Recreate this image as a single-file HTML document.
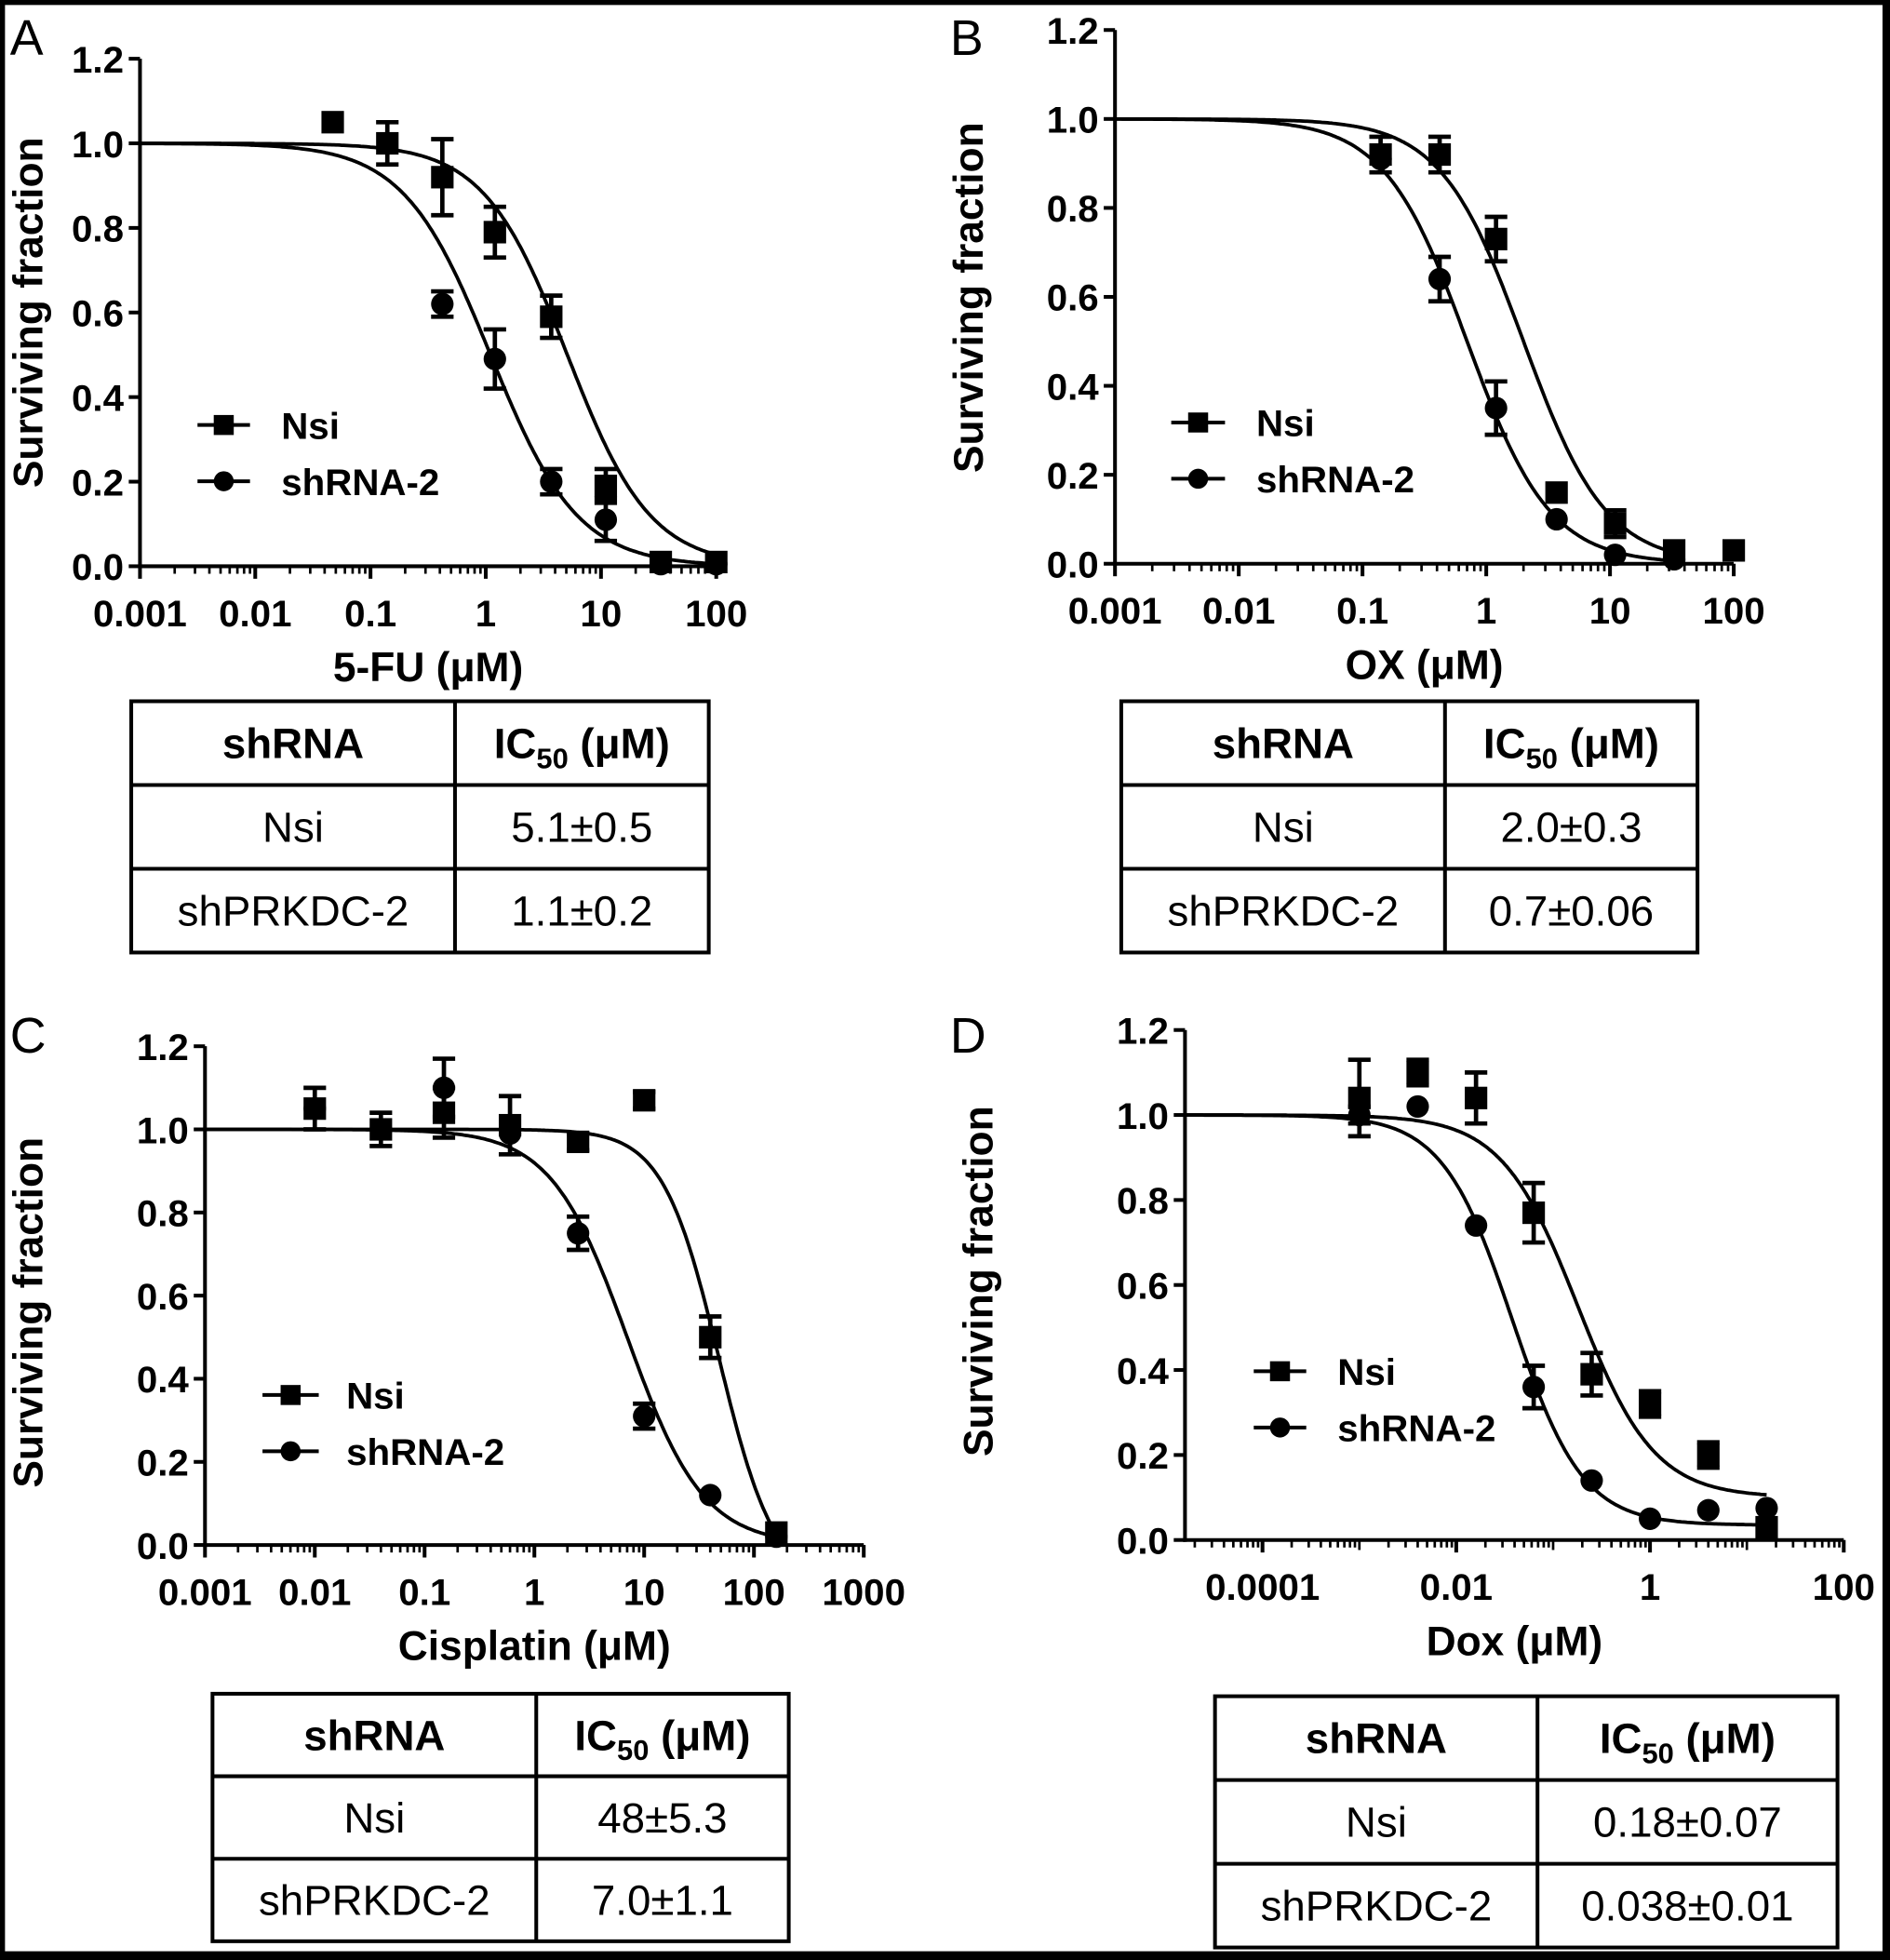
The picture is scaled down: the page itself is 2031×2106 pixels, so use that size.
<!DOCTYPE html>
<html><head><meta charset="utf-8">
<style>
html,body{margin:0;padding:0;background:#000;}
svg{display:block;}
text{font-family:"Liberation Sans",Arial,sans-serif;fill:#000;}
.b{font-weight:bold;}
</style></head>
<body>
<svg id="fig" xmlns="http://www.w3.org/2000/svg" width="2031" height="2106" viewBox="0 0 1512 1568" preserveAspectRatio="none">
<rect x="0" y="0" width="1512" height="1568" fill="#000"/>
<rect x="4" y="4" width="1502" height="1557" fill="#fff"/>
<g id="plots"></g>
</svg>
<script>
// Panel A: 5-FU
const aDoses = [0.047, 0.14, 0.42, 1.2, 3.7, 11, 33, 100];
const aNsiY = [1.05, 1.0, 0.92, 0.79, 0.59, 0.19, 0.01, 0.01];
const aNsiErr = [0, 0.05, 0.09, 0.06, 0.05, 0.04, 0, 0];
const aShDoses = [0.42, 1.2, 3.7, 11, 33, 100];
const aShY = [0.62, 0.49, 0.2, 0.11, 0.005, 0.005];
const aShErr = [0.03, 0.07, 0.03, 0.05, 0, 0];
const aFit = [5.1, 1.2, 1.1, 1.15];
// Panel B: OX
const bDoses = [0.14, 0.42, 1.2, 3.7, 11, 33, 100];
const bNsiY = [0.92, 0.92, 0.73, 0.16, 0.09, 0.03, 0.03];
const bNsiErr = [0.04, 0.04, 0.05, 0, 0.03, 0, 0];
const bShDoses = [0.14, 0.42, 1.2, 3.7, 11, 33];
const bShY = [0.91, 0.64, 0.35, 0.10, 0.02, 0.01];
const bShErr = [0, 0.05, 0.06, 0, 0, 0];
const bFit = [2.0, 1.3, 0.7, 1.3];
// Panel C: Cisplatin
const cDoses = [0.01, 0.04, 0.15, 0.6, 2.5, 10, 40, 160];
const cNsiY = [1.05, 1.0, 1.04, 1.01, 0.97, 1.07, 0.5, 0.03];
const cNsiErr = [0.05, 0.04, 0.06, 0.07, 0.02, 0.02, 0.05, 0];
const cShDoses = [0.01, 0.04, 0.15, 0.6, 2.5, 10, 40, 160];
const cShY = [1.05, 1.0, 1.1, 0.99, 0.75, 0.31, 0.12, 0.02];
const cShErr = [0, 0, 0.07, 0, 0.04, 0.03, 0, 0];
const cFit = [48, 1.7, 7.0, 1.25];
const cBottom = [-0.1, 0];
// Panel D: Dox
const dDoses = [0.001, 0.004, 0.016, 0.063, 0.25, 1, 4, 16];
const dNsiY = [1.04, 1.1, 1.04, 0.77, 0.39, 0.32, 0.2, 0.03];
const dNsiErr = [0.09, 0.03, 0.06, 0.07, 0.05, 0.03, 0.03, 0];
const dShDoses = [0.001, 0.004, 0.016, 0.063, 0.25, 1, 4, 16];
const dShY = [1.0, 1.02, 0.74, 0.36, 0.14, 0.05, 0.07, 0.075];
const dShErr = [0.02, 0, 0, 0.05, 0, 0, 0, 0];
const dFit = [0.18, 1.1, 0.038, 1.2];
const dBottom = [0.1, 0.035];

const yTicks = [0, 0.2, 0.4, 0.6, 0.8, 1.0, 1.2];
const yTickLabels = ["0.0","0.2","0.4","0.6","0.8","1.0","1.2"];
const aXTicks = [-3,-2,-1,0,1,2];
const aXLabels = ["0.001","0.01","0.1","1","10","100"];
const cXTicks = [-3,-2,-1,0,1,2,3];
const cXLabels = ["0.001","0.01","0.1","1","10","100","1000"];
const dXTicks = [-4,-2,0,2];
const dXLabels = ["0.0001","0.01","1","100"];
const tableNsi = ["5.1±0.5","2.0±0.3","48±5.3","0.18±0.07"];
const tableSh = ["1.1±0.2","0.7±0.06","7.0±1.1","0.038±0.01"];

const NS = "http://www.w3.org/2000/svg";
const root = document.getElementById('plots');
function mk(tag, attrs, parent){
  const e = document.createElementNS(NS, tag);
  for (const k in attrs) e.setAttribute(k, attrs[k]);
  (parent||root).appendChild(e);
  return e;
}
function txt(s, attrs, parent){ const t = mk('text', attrs, parent); t.textContent = s; return t; }

const panels = [
 {id:'a', letter:'A', lx:8, ly:44, ax:112, xmin:-3, xmax:2, xr:573, y0:453, y12:47, ticks:aXTicks, labels:aXLabels, xtitle:'5-FU (μM)', ytx:34, ytc:250,
  doses:aDoses, nsi:aNsiY, nsiE:aNsiErr, shd:aShDoses, sh:aShY, shE:aShErr, fit:aFit, bot:[0,0], cmin:-3, cmax:2,
  leg:[158,200,340,225], tab:[105,364,567,561,67]},
 {id:'b', letter:'B', lx:760, ly:44, ax:892, xmin:-3, xmax:2, xr:1387, y0:451, y12:24, ticks:aXTicks, labels:aXLabels, xtitle:'OX  (μM)', ytx:786, ytc:238,
  doses:bDoses, nsi:bNsiY, nsiE:bNsiErr, shd:bShDoses, sh:bShY, shE:bShErr, fit:bFit, bot:[0,0], cmin:-3, cmax:Math.log10(33),
  leg:[937,980,338,1005], tab:[897,1156,1358,561,67]},
 {id:'c', letter:'C', lx:8, ly:842, ax:164, xmin:-3, xmax:3, xr:691, y0:1236, y12:837, ticks:cXTicks, labels:cXLabels, xtitle:'Cisplatin (μM)', ytx:34, ytc:1050,
  doses:cDoses, nsi:cNsiY, nsiE:cNsiErr, shd:cShDoses, sh:cShY, shE:cShErr, fit:cFit, bot:cBottom, cmin:-3, cmax:Math.log10(160),
  leg:[210,255,1116,277], tab:[170,429,631,1355,66]},
 {id:'d', letter:'D', lx:760, ly:842, ax:948, xmin:-4.8, xmax:2, xr:1475, y0:1232, y12:824, ticks:dXTicks, labels:dXLabels, xtitle:'Dox  (μM)', ytx:794, ytc:1025,
  doses:dDoses, nsi:dNsiY, nsiE:dNsiErr, shd:dShDoses, sh:dShY, shE:dShErr, fit:dFit, bot:dBottom, cmin:-4.8, cmax:Math.log10(16),
  leg:[1003,1045,1097,1070], tab:[972,1230,1470,1357,67]}
];

panels.forEach((p, pi) => {
  const g = mk('g', {});
  
  
  const x0 = p.ax, xr = p.xr;
  const X = v => x0 + (Math.log10(v) - p.xmin) / (p.xmax - p.xmin) * (xr - x0);
  const XL = l => x0 + (l - p.xmin) / (p.xmax - p.xmin) * (xr - x0);
  const Y = v => p.y0 - v / 1.2 * (p.y0 - p.y12);
  const lt = txt(p.letter, {x:p.lx, y:p.ly, 'font-size':40}, g);
  
  
  const ya = mk('line', {x1:x0, y1:p.y12, x2:x0, y2:p.y0+1.5, stroke:'#000','stroke-width':3}, g);
  
  
  const xa = mk('line', {x1:x0-1.5, y1:p.y0, x2:xr, y2:p.y0, stroke:'#000','stroke-width':3}, g);
  
  
  yTicks.forEach((v, i) => {
    mk('line', {x1:x0-9, y1:Y(v), x2:x0, y2:Y(v), stroke:'#000','stroke-width':3}, g);
    const t = txt(yTickLabels[i], {x:x0-13, y:Y(v)+11, 'font-size':30, 'text-anchor':'end', class:'b'}, g);
    
    
  });
  for (let d = Math.floor(p.xmin); d <= p.xmax; d++) {
    for (let m = 1; m <= 9; m++) {
      const l = d + Math.log10(m);
      if (l < p.xmin - 1e-9 || l > p.xmax + 1e-9) continue;
      const major = m === 1 && p.ticks.indexOf(d) >= 0;
      const len = major ? 10 : (m === 1 ? 8 : 6);
      mk('line', {x1:XL(l), y1:p.y0, x2:XL(l), y2:p.y0+len, stroke:'#000','stroke-width':major?3:2}, g);
    }
  }
  p.ticks.forEach((l, i) => {
    const t = txt(p.labels[i], {x:XL(l), y:p.y0+48, 'font-size':30, 'text-anchor':'middle', class:'b'}, g);
    
    
  });
  const xt = txt(p.xtitle, {x:(x0+xr)/2, y:p.y0+92, 'font-size':33, 'text-anchor':'middle', class:'b'}, g);
  
  
  const yt = txt('Surviving fraction', {x:0, y:0, 'font-size':33, 'text-anchor':'middle', class:'b', transform:`translate(${p.ytx},${p.ytc}) rotate(-90)`}, g);
  
  
  const curve = (ic, h, bot, nm) => {
    let d = '';
    for (let i = 0; i <= 300; i++) {
      const l = p.cmin + (p.cmax - p.cmin) * i / 300;
      const v = Math.max(0, bot + (1 - bot) / (1 + Math.pow(Math.pow(10, l) / ic, h)));
      d += (i ? 'L' : 'M') + XL(l).toFixed(1) + ',' + Y(v).toFixed(1);
    }
    const c = mk('path', {d:d, fill:'none', stroke:'#000', 'stroke-width':2.8}, g);
    
    
  };
  curve(p.fit[0], p.fit[1], p.bot[0], 'nsi-fit-curve');
  curve(p.fit[2], p.fit[3], p.bot[1], 'shrna-fit-curve');
  const errbar = (x, y, e) => {
    if (!e) return;
    mk('line', {x1:x, y1:Y(y-e), x2:x, y2:Y(y+e), stroke:'#000','stroke-width':3.5}, g);
    mk('line', {x1:x-9, y1:Y(y-e), x2:x+9, y2:Y(y-e), stroke:'#000','stroke-width':3.5}, g);
    mk('line', {x1:x-9, y1:Y(y+e), x2:x+9, y2:Y(y+e), stroke:'#000','stroke-width':3.5}, g);
  };
  p.shd.forEach((dv, i) => {
    errbar(X(dv), p.sh[i], p.shE[i]);
    const c = mk('circle', {cx:X(dv), cy:Y(p.sh[i]), r:9, fill:'#000'}, g);
    
    
  });
  p.doses.forEach((dv, i) => {
    errbar(X(dv), p.nsi[i], p.nsiE[i]);
    const s = mk('rect', {x:X(dv)-9, y:Y(p.nsi[i])-9, width:18, height:18, fill:'#000'}, g);
    
    
  });
  const [l1, l2, ly, tx] = p.leg;
  const lg = mk('g', {}, g);
  
  
  mk('line', {x1:l1, y1:ly, x2:l2, y2:ly, stroke:'#000','stroke-width':3}, lg);
  mk('rect', {x:(l1+l2)/2-8, y:ly-8, width:16, height:16, fill:'#000'}, lg);
  txt('Nsi', {x:tx, y:ly+11, 'font-size':30, class:'b'}, lg);
  mk('line', {x1:l1, y1:ly+45, x2:l2, y2:ly+45, stroke:'#000','stroke-width':3}, lg);
  mk('circle', {cx:(l1+l2)/2, cy:ly+45, r:8, fill:'#000'}, lg);
  txt('shRNA-2', {x:tx, y:ly+56, 'font-size':30, class:'b'}, lg);
  const [tx0, tc, tx1, ty0, rh] = p.tab;
  const tg = mk('g', {}, g);
  
  
  mk('rect', {x:tx0, y:ty0, width:tx1-tx0, height:rh*3, fill:'none', stroke:'#000','stroke-width':3}, tg);
  mk('line', {x1:tc, y1:ty0, x2:tc, y2:ty0+rh*3, stroke:'#000','stroke-width':3}, tg);
  mk('line', {x1:tx0, y1:ty0+rh, x2:tx1, y2:ty0+rh, stroke:'#000','stroke-width':3}, tg);
  mk('line', {x1:tx0, y1:ty0+rh*2, x2:tx1, y2:ty0+rh*2, stroke:'#000','stroke-width':3}, tg);
  const c1 = (tx0+tc)/2, c2 = (tc+tx1)/2;
  txt('shRNA', {x:c1, y:ty0+rh/2+12, 'font-size':34, 'text-anchor':'middle', class:'b'}, tg);
  const h = txt('', {x:c2, y:ty0+rh/2+12, 'font-size':34, 'text-anchor':'middle', class:'b'}, tg);
  h.innerHTML = 'IC<tspan font-size="23" dy="8">50</tspan><tspan dy="-8"> (μM)</tspan>';
  txt('Nsi', {x:c1, y:ty0+rh*1.5+12, 'font-size':34, 'text-anchor':'middle'}, tg);
  txt(tableNsi[pi], {x:c2, y:ty0+rh*1.5+12, 'font-size':34, 'text-anchor':'middle'}, tg);
  txt('shPRKDC-2', {x:c1, y:ty0+rh*2.5+12, 'font-size':34, 'text-anchor':'middle'}, tg);
  txt(tableSh[pi], {x:c2, y:ty0+rh*2.5+12, 'font-size':34, 'text-anchor':'middle'}, tg);
});
</script>
</body></html>
